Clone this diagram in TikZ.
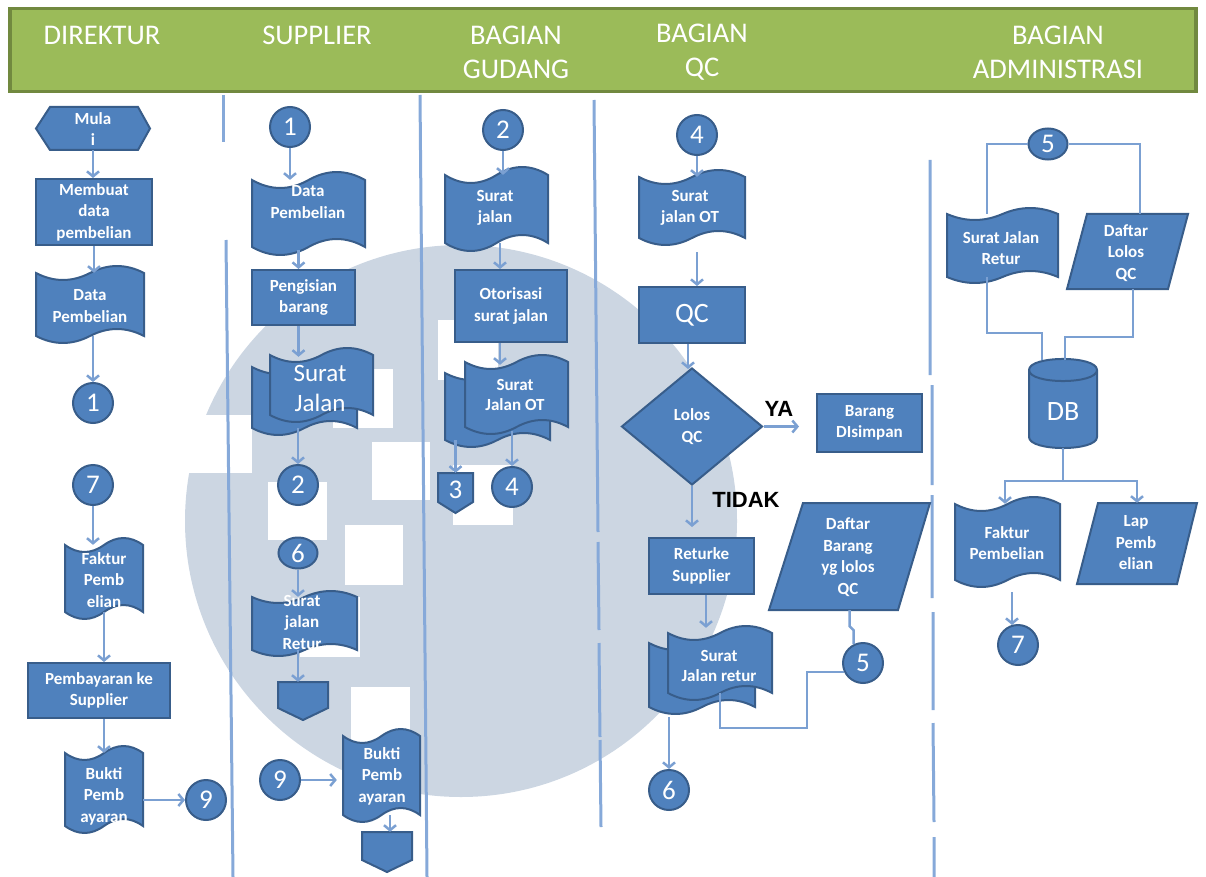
\documentclass[tikz,border=0pt]{standalone}
\usepackage{fontspec}
\setmainfont{Carlito}
\newfontfamily\answerfont{Liberation Sans}
\usetikzlibrary{arrows.meta,shapes.geometric,calc}

\definecolor{headgreen}{HTML}{9BBB59}
\definecolor{headedge}{HTML}{71893F}
\definecolor{boxfill}{HTML}{4F81BD}
\definecolor{boxedge}{HTML}{385D8A}
\definecolor{linkc}{HTML}{7BA0D2}
\definecolor{lanec}{HTML}{86A9D9}
\definecolor{markc}{HTML}{CCD6E2}

% punched-tape outline: left, top, right, bottom, wave amplitude
\newcommand\tapepath[5]{%
 (#1,#2) .. controls ({#1+(#3-#1)/6},{#2+1.33*#5}) and ({#1+(#3-#1)/3},{#2+1.33*#5}) .. ({(#1+#3)/2},#2)
 .. controls ({#1+2*(#3-#1)/3},{#2-1.33*#5}) and ({#1+5*(#3-#1)/6},{#2-1.33*#5}) .. (#3,#2)
 -- (#3,#4)
 .. controls ({#1+5*(#3-#1)/6},{#4-1.33*#5}) and ({#1+2*(#3-#1)/3},{#4-1.33*#5}) .. ({(#1+#3)/2},#4)
 .. controls ({#1+(#3-#1)/3},{#4+1.33*#5}) and ({#1+(#3-#1)/6},{#4+1.33*#5}) .. (#1,#4)
 -- cycle}
% invisible named box covering a drawn shape
\newcommand\shapearea[5]{\node[minimum width={#4-#2}, minimum height={#5-#3}] (#1) at ({(#2+#4)/2},{(#3+#5)/2}) {};}
\newcommand\tapeshape[6]{\draw[shapestyle] \tapepath{#2}{#3}{#4}{#5}{#6}; \shapearea{#1}{#2}{#3}{#4}{#5}}
% stacked tapes: name, back L T R B, front L T R B
\newcommand\multitape[9]{\draw[shapestyle] \tapepath{#2}{#3}{#4}{#5}{7}; \shapearea{#1b}{#2}{#3}{#4}{#5}
 \draw[shapestyle] \tapepath{#6}{#7}{#8}{#9}{7}; \shapearea{#1}{#6}{#7}{#8}{#9}}

\begin{document}
\begin{tikzpicture}[x=1pt,y=-1pt,
  every node/.style={inner sep=0pt},
  shapestyle/.style={fill=boxfill, draw=boxedge, line width=2pt},
  txt/.style={text=white, font=\bfseries\fontsize{17}{21.5}\selectfont, align=center},
  bigtxt/.style={text=white, font=\fontsize{25}{30}\selectfont, align=center},
  procbox/.style={shapestyle, rectangle, txt},
  conn/.style={shapestyle, circle, minimum size=40pt, text=white, font=\fontsize{27}{27}\selectfont},
  oconn/.style={conn, ellipse, minimum size=0pt, minimum width=39pt, minimum height=31pt},
  flow/.style={draw=linkc, line width=2.5pt, -{Straight Barb[length=5pt,width=12pt]}},
  link/.style={draw=linkc, line width=2.5pt},
  lane/.style={draw=lanec, line width=3pt},
  head/.style={text=white, font=\fontsize{28.5}{34}\selectfont, align=center},
  answer/.style={font=\answerfont\bfseries\fontsize{22}{22}\selectfont, text=black},
]
\useasboundingbox (0,0) rectangle (1206,877);

% faint emblem in the background
\fill[markc] (461,521) circle (276);
\fill[white] (180,415) rectangle (252,473);
\foreach \l/\t/\r/\b in {333/369/393/428, 438/320/498/380, 372/442/430/500,
  268/482/327/540, 345/525/403/585, 300/597/360/657, 351/687/410/745, 453/465/513/525}
  \fill[white] (\l,\t) rectangle (\r,\b);

% swimlane dividers
\draw[lane] (223,95) -- (223,142);
\draw[lane] (226,240) -- (233,877);
\draw[lane] (420,95) -- (427,877);
\draw[lane] (594,100) -- (598,532) (598,542) -- (599,630) (599,643) -- (600,737) (600,740) -- (601,827);
\draw[lane] (930,160) -- (930,375) (932,385) -- (932,485) (932,495) -- (932,598)
  (933,612) -- (933,710) (933,723) -- (934,822) (934,837) -- (934,877);

% header band
\node[fill=headgreen, draw=headedge, line width=3.5pt, minimum width=1186pt, minimum height=83pt] (header) at (603,50) {};
\node[head] (hdir) at (102,35) {DIREKTUR};
\node[head] (hsup) at (317,35) {SUPPLIER};
\node[head] (hgud) at (516,52) {BAGIAN\\GUDANG};
\node[head] (hqc) at (702,52) {BAGIAN\\QC};
\node[head] (hadm) at (1058,52) {BAGIAN\\ADMINISTRASI};

% ---------- DIREKTUR ----------
\draw[shapestyle] (36,128.5) -- (50,107) -- (138,107) -- (150,128.5) -- (138,150) -- (50,150) -- cycle;
\shapearea{mulai}{36}{107}{150}{150}
\node[txt] (tmulai) at (93,129) {Mula\\i};
\node[procbox, minimum width=116, minimum height=66] (membuat) at (94,212) {Membuat\\data\\pembelian};
\tapeshape{dataA}{36}{273}{144}{336}{7}
\node[txt] (tdataA) at (90,306) {Data\\Pembelian};
\node[conn] (c1a) at (93,403) {1};
\node[conn] (c7a) at (93,485) {7};
\tapeshape{fakturA}{65}{545}{143}{612}{7}
\node[txt] (tfakturA) at (104,580) {Faktur\\Pemb\\elian};
\node[procbox, minimum width=142, minimum height=55] (bayar) at (99,690.5) {Pembayaran ke\\Supplier};
\tapeshape{buktiA}{65}{753}{143}{826}{7}
\node[txt] (tbuktiA) at (104,796) {Bukti\\Pemb\\ayaran};
\node[conn] (c9a) at (206,800) {9};

% ---------- SUPPLIER ----------
\node[conn] (c1b) at (290,127) {1};
\tapeshape{dataB}{252}{180}{365}{247}{8}
\node[txt] (tdataB) at (308,202) {Data\\Pembelian};
\node[procbox, minimum width=103, minimum height=55] (isi) at (303.5,297.5) {Pengisian\\barang};
\multitape{suratJ}{252}{367}{357}{428}{270}{355}{373}{415}
\node[bigtxt] (tsuratJ) at (320,388) {Surat\\Jalan};
\node[conn] (c2a) at (298,485) {2};
\node[oconn] (c6a) at (298,553) {6};
\tapeshape{sjretA}{252}{597}{357}{650}{6}
\node[txt] (tsjretA) at (302,622) {Surat\\jalan\\Retur};
\draw[shapestyle] (278,682) -- (328,682) -- (328,708) -- (303,720) -- (278,708) -- cycle;
\shapearea{offA}{278}{682}{328}{720}
\node[conn] (c9b) at (280,780) {9};
\tapeshape{buktiB}{343}{736}{420}{815}{7}
\node[txt] (tbuktiB) at (382,776) {Bukti\\Pemb\\ayaran};
\draw[shapestyle] (362,832) -- (412,832) -- (412,860) -- (387,872) -- (362,860) -- cycle;
\shapearea{offB}{362}{832}{412}{872}

% ---------- BAGIAN GUDANG ----------
\node[conn] (c2b) at (503,130) {2};
\tapeshape{sjalan}{445}{175}{548}{243}{8}
\node[txt] (tsjalan) at (495,208) {Surat\\jalan};
\node[procbox, minimum width=112, minimum height=72] (otor) at (511,306) {Otorisasi\\surat jalan};
\multitape{sjot}{445}{373}{550}{440}{465}{362}{568}{427}
\node[txt, font=\bfseries\fontsize{17}{20}\selectfont] (tsjot) at (515,395) {Surat\\Jalan OT};
\draw[shapestyle] (438,473) -- (473,473) -- (473,502) -- (455.5,513) -- (438,502) -- cycle;
\shapearea{offC}{438}{473}{473}{513}
\node[text=white, font=\fontsize{27}{27}\selectfont] (toffC) at (455.5,490) {3};
\node[conn] (c4a) at (512,487) {4};

% ---------- BAGIAN QC ----------
\node[conn] (c4b) at (697,135) {4};
\tapeshape{sjotqc}{639}{177}{745}{238}{7}
\node[txt] (tsjotqc) at (690,208) {Surat\\jalan OT};
\node[shapestyle, rectangle, minimum width=106, minimum height=56, text=white, font=\fontsize{28}{28}\selectfont] (qc) at (692,315) {QC};
\node[shapestyle, diamond, minimum width=141, minimum height=117, txt] (lolos) at (692,426.5) {Lolos\\QC};
\node[answer] (ya) at (779,409) {YA};
\node[procbox, minimum width=105, minimum height=58] (simpan) at (869.5,423) {Barang\\DIsimpan};
\node[answer] (tidak) at (746,500) {TIDAK};
\node[procbox, minimum width=105, minimum height=56] (retur) at (701.5,566) {Returke\\Supplier};
\multitape{sjretB}{649}{643}{755}{707}{668}{633}{772}{693}
\node[txt, font=\bfseries\fontsize{17}{20}\selectfont] (tsjretB) at (719,666) {Surat\\Jalan retur};
\node[conn] (c6b) at (669,790) {6};
\draw[shapestyle] (803,503) -- (930,503) -- (898,610) -- (769,610) -- cycle;
\shapearea{daftarA}{769}{503}{930}{610}
\node[txt] (tdaftarA) at (848,557) {Daftar\\Barang\\yg lolos\\QC};
\node[conn] (c5a) at (863,663) {5};

% ---------- BAGIAN ADMINISTRASI ----------
\node[oconn] (c5b) at (1048,144) {5};
\tapeshape{sjretC}{947}{214}{1058}{277}{6}
\node[txt] (tsjretC) at (1001,248) {Surat Jalan\\Retur};
\draw[shapestyle] (1087,214) -- (1188,214) -- (1168,289) -- (1067,289) -- cycle;
\shapearea{daftarB}{1067}{214}{1188}{289}
\node[txt] (tdaftarB) at (1126,253) {Daftar\\Lolos\\QC};
\draw[shapestyle] (1029,370) -- (1029,437) .. controls (1029,451.7) and (1097,451.7) .. (1097,437)
  -- (1097,370) .. controls (1097,355.3) and (1029,355.3) .. (1029,370) -- cycle;
\draw[draw=boxedge, line width=2pt] (1029,370) .. controls (1029,384.7) and (1097,384.7) .. (1097,370);
\shapearea{db}{1029}{359}{1097}{448}
\node[text=white, font=\fontsize{28}{28}\selectfont] (tdb) at (1063,412) {DB};
\tapeshape{fakturB}{955}{504}{1060}{580}{7}
\node[txt] (tfakturB) at (1007,543) {Faktur\\Pembelian};
\draw[shapestyle] (1098,503) -- (1197,503) -- (1177,584) -- (1077,584) -- cycle;
\shapearea{lap}{1077}{503}{1197}{584}
\node[txt] (tlap) at (1136,543) {Lap\\Pemb\\elian};
\node[conn] (c7b) at (1018,645) {7};

% ---------- connectors ----------
\draw[flow] (mulai.south) -- (mulai.south |- membuat.north);
\draw[flow] (membuat.south) -- (membuat.south |- dataA.north);
\draw[flow] (dataA.south -| c1a.north) -- (c1a.north);
\draw[flow] (c7a.south) -- (c7a.south |- fakturA.north);
\draw[flow] (fakturA.south) -- (fakturA.south |- bayar.north);
\draw[flow] (buktiA.north |- bayar.south) -- (buktiA.north);
\draw[flow] (buktiA.east |- c9a.west) -- (c9a.west);

\draw[flow] (c1b.south) -- (c1b.south |- dataB.north);
\draw[flow] ($(dataB.south)+(-10,3)$) -- ($(dataB.south |- isi.north)+(-10,0)$);
\draw[flow] ($(isi.south)+(-5,0)$) -- ($(isi.south |- suratJ.north)+(-5,2)$);
\draw[flow] (suratJb.south -| c2a.north) -- (c2a.north);
\draw[flow] (c6a.south) -- (c6a.south |- sjretA.north);
\draw[flow] (c6a.south |- sjretA.south) -- (c6a.south |- offA.north);
\draw[flow] (c9b.east) -- ($(c9b.east -| buktiB.west)+(-6,0)$);
\draw[flow] ($(buktiB.south -| offB.north)+(3,0)$) -- ($(offB.north)+(3,0)$);

\draw[flow] (c2b.south) -- (c2b.south |- sjalan.north);
\draw[flow] ($(sjalan.south)+(3.5,0)$) -- ($(sjalan.south |- otor.north)+(3.5,0)$);
\draw[flow] ($(otor.south)+(-11,0)$) -- ($(otor.south |- sjot.north)+(-11,3)$);
\draw[flow] (sjotb.south -| offC.north) -- (offC.north);
\draw[flow] ($(sjot.south -| c4a.north)+(0,4)$) -- (c4a.north);

\draw[flow] (c4b.south) -- (c4b.south |- sjotqc.north);
\draw[flow] ($(c4b.south |- sjotqc.south)+(0,14)$) -- (c4b.south |- qc.north);
\draw[flow] ($(qc.south)+(-4,0)$) -- ($(qc.south |- lolos.north)+(-4,2)$);
\draw[flow] (lolos.east) -- ($(lolos.east -| simpan.west)+(-17,0)$);
\draw[flow] (lolos.south) -- ($(lolos.south |- retur.north)+(0,-10)$);
\draw[flow] ($(retur.south)+(4.5,0)$) -- ($(retur.south |- sjretB.north)+(4.5,-5)$);
\draw[flow] ($(sjretB.south -| c6b.north)+(0,24)$) -- (c6b.north);
\draw[link] (daftarA.south) -- ++(0,16) -- ++(4,4) -- ($(daftarA.south |- c5a.north)+(4,2)$);
\draw[link] ($(c5a.west)+(2,9)$) -- ++(-37,0) -- ++(0,56) -| (sjretB.south);

\draw[link] (c5b.west) -| ($(sjretC.north)+(-15.5,0)$);
\draw[link] (c5b.east) -| ($(daftarB.north)+(12.5,0)$);
\draw[link] ($(sjretC.south)+(-15.5,0)$) |- ($(db.north)+(-21,-26)$) -- ($(db.north)+(-21,1)$);
\draw[link] ($(daftarB.south)+(5.5,0)$) |- ($(db.north)+(2,-22)$) -- ($(db.north)+(2,1)$);
\draw[link] (db.south) -- ++(0,33) coordinate (split);
\draw[flow] (split) -| ($(fakturB.north)+(-2.5,0)$);
\draw[flow] (split) -| (lap.north);
\draw[flow] ($(fakturB.south)+(4.5,12)$) -- ($(fakturB.south |- c7b.north)+(4.5,1)$);
\end{tikzpicture}
\end{document}
